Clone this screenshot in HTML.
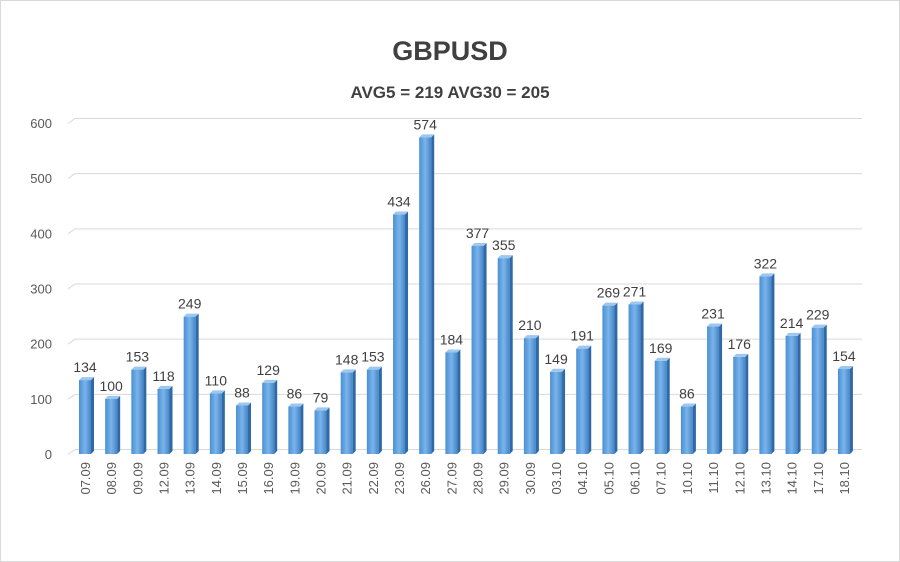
<!DOCTYPE html><html><head><style>body{margin:0;background:#fff}svg{display:block;font-family:"Liberation Sans",sans-serif}</style></head><body>
<svg width="900" height="562" xmlns="http://www.w3.org/2000/svg">
<defs><linearGradient id="g" x1="0" x2="1"><stop offset="0" stop-color="#4a8fd4"/><stop offset="0.5" stop-color="#7ab4ea"/><stop offset="1" stop-color="#4585c8"/></linearGradient></defs>
<rect x="0.5" y="0.5" width="899" height="561" fill="#fff" stroke="#d9d9d9"/>
<text x="450" y="60" text-anchor="middle" font-size="27" font-weight="bold" fill="#404040">GBPUSD</text>
<text x="450" y="98" text-anchor="middle" font-size="17" font-weight="bold" fill="#404040">AVG5 = 219 AVG30 = 205</text>
<g id="grid" stroke="#d9d9d9" stroke-width="1" fill="none"></g>
<g id="yl" font-size="13" fill="#595959" text-anchor="end"></g>
<g id="bars"></g>
<g id="vl" font-size="14" fill="#404040" text-anchor="middle"></g>
<g id="xl" font-size="13" fill="#595959"></g>
<script>
var v=[134,100,153,118,249,110,88,129,86,79,148,153,434,574,184,377,355,210,149,191,269,271,169,86,231,176,322,214,229,154];
var d=["07.09","08.09","09.09","12.09","13.09","14.09","15.09","16.09","19.09","20.09","21.09","22.09","23.09","26.09","27.09","28.09","29.09","30.09","03.10","04.10","05.10","06.10","07.10","10.10","11.10","12.10","13.10","14.10","17.10","18.10"];
var ns="http://www.w3.org/2000/svg";function e(p,t,a,tx){var n=document.createElementNS(ns,t);for(var k in a)n.setAttribute(k,a[k]);if(tx!=null)n.textContent=tx;document.getElementById(p).appendChild(n);}
function Y(x){return 454-x*0.5517;}
for(var i=0;i<=6;i++){var y=Y(i*100);e("grid","path",{d:"M68 "+(y+0.5)+" L75 "+(y-4.5)+" L862 "+(y-4.5)});e("yl","text",{x:52,y:y+5},i*100);}
for(var i=0;i<30;i++){var c=85+i*26.17,y=Y(v[i]);
e("bars","rect",{x:c-6,y:y,width:12,height:454-y,fill:"url(#g)"});
e("bars","path",{d:"M"+(c+6)+" "+y+" l3 -3 V451 l-3 3z",fill:"#2f69a6"});
e("bars","path",{d:"M"+(c-6)+" "+y+" l3 -3 h12 l-3 3z",fill:"#9cc7f0"});
e("vl","text",{x:c,y:y-8},v[i]);
e("xl","text",{x:0,y:0,transform:"translate("+(c+5)+" 462) rotate(-90)","text-anchor":"end"},d[i]);}
</script>
</svg></body></html>
